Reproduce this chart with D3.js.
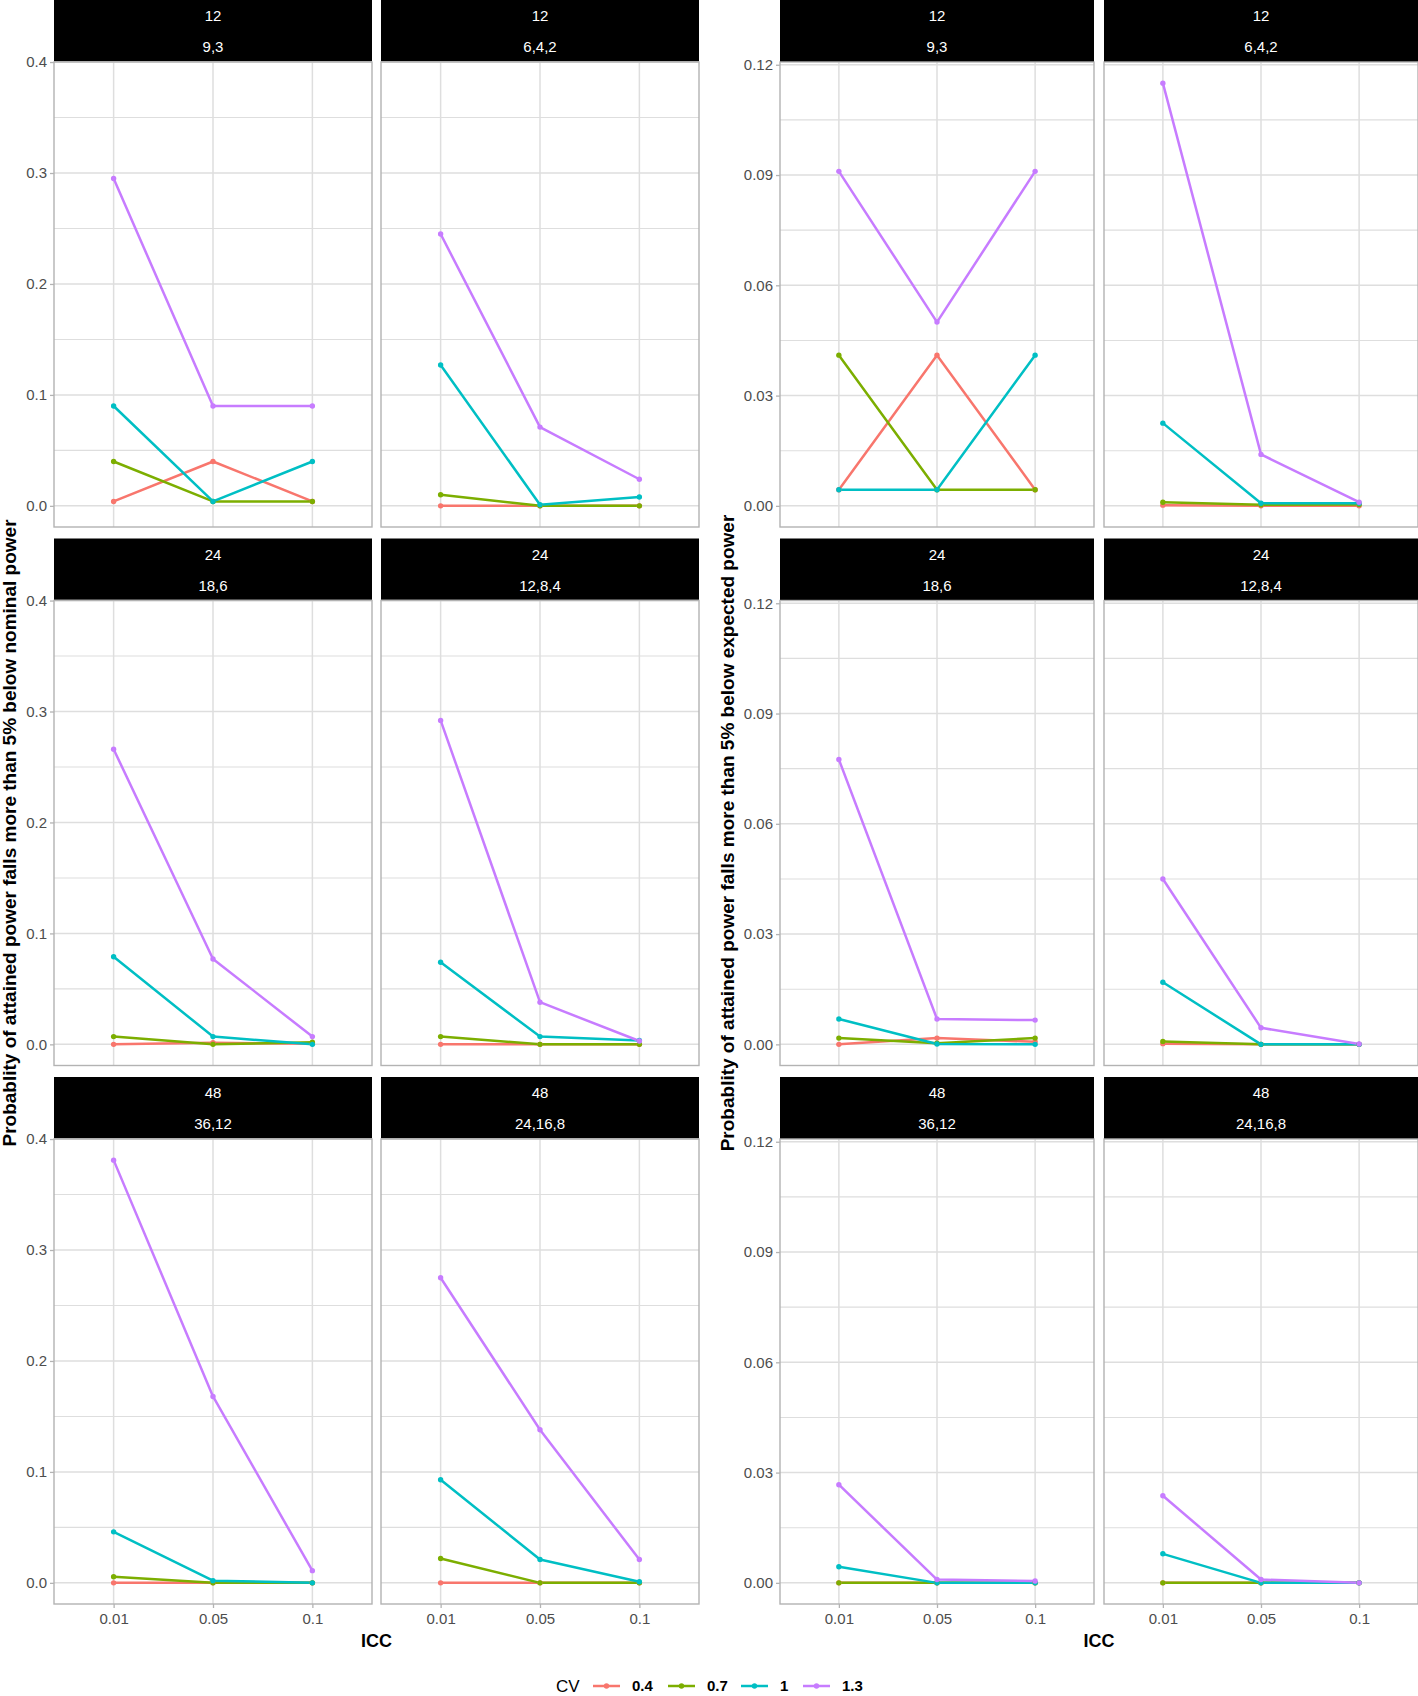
<!DOCTYPE html>
<html><head><meta charset="utf-8">
<script src="https://cdn.jsdelivr.net/npm/d3@7"></script>
<style>body{margin:0;background:#fff} svg{display:block}</style>
</head><body><svg id="c" width="1418" height="1696"></svg>
<script>
// ---------- data ----------
const iccLevels = ["0.01", "0.05", "0.1"];
const cvLevels = ["0.4", "0.7", "1", "1.3"];
const cvColors = ["#F8766D", "#7CAE00", "#00BFC4", "#C77CFF"];
const facetTotals = ["12", "12", "24", "24", "48", "48"];
const facetSizes = ["9,3", "6,4,2", "18,6", "12,8,4", "36,12", "24,16,8"];
const nominalTicks = [0, 0.1, 0.2, 0.3, 0.4];
const nominalMinor = [0.05, 0.15, 0.25, 0.35];
const expectedTicks = [0, 0.03, 0.06, 0.09, 0.12];
const expectedMinor = [0.015, 0.045, 0.075, 0.105];

// each facet: one row per CV level (0.4, 0.7, 1, 1.3), values at ICC 0.01, 0.05, 0.1
// probability of falling >5% below nominal power
const nominal_12_9_3    = [[0.004, 0.040, 0.004], [0.040, 0.004, 0.004], [0.090, 0.004, 0.040], [0.295, 0.090, 0.090]];
const nominal_12_6_4_2  = [[0.000, 0.000, 0.000], [0.010, 0.000, 0.000], [0.127, 0.001, 0.008], [0.245, 0.071, 0.024]];
const nominal_24_18_6   = [[0.000, 0.0015, 0.0005], [0.007, 0.000, 0.002], [0.079, 0.007, 0.000], [0.266, 0.077, 0.007]];
const nominal_24_12_8_4 = [[0.000, 0.000, 0.000], [0.007, 0.000, 0.000], [0.074, 0.007, 0.0035], [0.292, 0.038, 0.003]];
const nominal_48_36_12  = [[0.000, 0.000, 0.000], [0.0055, 0.000, 0.000], [0.046, 0.002, 0.000], [0.381, 0.168, 0.011]];
const nominal_48_24_16_8= [[0.000, 0.000, 0.000], [0.022, 0.000, 0.000], [0.093, 0.021, 0.001], [0.275, 0.138, 0.021]];
// probability of falling >5% below expected power
const expected_12_9_3    = [[0.0044, 0.041, 0.0044], [0.041, 0.0044, 0.0044], [0.0044, 0.0044, 0.041], [0.091, 0.050, 0.091]];
const expected_12_6_4_2  = [[0.0002, 0.000, 0.000], [0.001, 0.0003, 0.0004], [0.0225, 0.0007, 0.0007], [0.115, 0.014, 0.001]];
const expected_24_18_6   = [[0.000, 0.0017, 0.0007], [0.0017, 0.0003, 0.0017], [0.0069, 0.0001, 0.000], [0.0775, 0.0069, 0.0066]];
const expected_24_12_8_4 = [[0.0002, 0.000, 0.000], [0.0008, 0.000, 0.000], [0.0169, 0.000, 0.000], [0.045, 0.0045, 0.0001]];
const expected_48_36_12  = [[0.000, 0.000, 0.000], [0.000, 0.000, 0.000], [0.0044, 0.000, 0.000], [0.0267, 0.0009, 0.0005]];
const expected_48_24_16_8= [[0.000, 0.000, 0.000], [0.000, 0.000, 0.000], [0.0079, 0.000, 0.000], [0.0237, 0.0009, 0.000]];

const nominalFacets = [nominal_12_9_3, nominal_12_6_4_2, nominal_24_18_6, nominal_24_12_8_4, nominal_48_36_12, nominal_48_24_16_8];
const expectedFacets = [expected_12_9_3, expected_12_6_4_2, expected_24_18_6, expected_24_12_8_4, expected_48_36_12, expected_48_24_16_8];

// ---------- layout ----------
const FONT = "'Liberation Sans', Arial, Helvetica, sans-serif";
const svg = d3.select("#c");
const rowTop = [0, 538.5, 1077];
const stripH = 62, panelH = 465;
const GRID = "#DEDEDE", BORDER = "#B3B3B3", TXT = "#4D4D4D";

const plots = [
  { facets: nominalFacets, panelX: [54, 381], panelW: 318, ticks: nominalTicks, minor: nominalMinor,
    fmt: d3.format(".1f"), title: "Probablity of attained power falls more than 5% below nominal power", titleX: 9 },
  { facets: expectedFacets, panelX: [780, 1104], panelW: 314, ticks: expectedTicks, minor: expectedMinor,
    fmt: d3.format(".2f"), title: "Probablity of attained power falls more than 5% below expected power", titleX: 727 }
];

plots.forEach(p => {
  const maxV = d3.max(p.facets.flat(2));
  const ext = maxV * 0.05;
  p.facets.forEach((vals, fi) => {
    const r = Math.floor(fi / 2), c = fi % 2;
    const x0 = p.panelX[c], w = p.panelW;
    const top = rowTop[r] + stripH, bot = top + panelH;
    const x = d3.scalePoint().domain(iccLevels).range([x0, x0 + w]).padding(0.6);
    const y = d3.scaleLinear().domain([-ext, maxV + ext]).range([bot, top]);
    const g = svg.append("g");

    // strip
    g.append("rect").attr("x", x0).attr("y", rowTop[r]).attr("width", w).attr("height", stripH).attr("fill", "#000");
    g.append("text").attr("x", x0 + w / 2).attr("y", rowTop[r] + 16).attr("dy", "0.36em")
      .attr("text-anchor", "middle").attr("fill", "#fff").attr("font-family", FONT).attr("font-size", 15)
      .text(facetTotals[fi]);
    g.append("text").attr("x", x0 + w / 2).attr("y", rowTop[r] + 47).attr("dy", "0.36em")
      .attr("text-anchor", "middle").attr("fill", "#fff").attr("font-family", FONT).attr("font-size", 15)
      .text(facetSizes[fi]);

    // grid
    g.selectAll(".mn").data(p.minor).join("line")
      .attr("x1", x0).attr("x2", x0 + w).attr("y1", d => y(d)).attr("y2", d => y(d))
      .attr("stroke", GRID).attr("stroke-width", 1.1);
    g.selectAll(".mj").data(p.ticks).join("line")
      .attr("x1", x0).attr("x2", x0 + w).attr("y1", d => y(d)).attr("y2", d => y(d))
      .attr("stroke", GRID).attr("stroke-width", 1.5);
    g.selectAll(".vx").data(iccLevels).join("line")
      .attr("x1", d => x(d)).attr("x2", d => x(d)).attr("y1", top).attr("y2", bot)
      .attr("stroke", GRID).attr("stroke-width", 1.5);

    // series
    const line = d3.line().x((d, i) => x(iccLevels[i])).y(d => y(d));
    vals.forEach((series, si) => {
      g.append("path").attr("d", line(series)).attr("fill", "none")
        .attr("stroke", cvColors[si]).attr("stroke-width", 2.5).attr("stroke-linejoin", "round");
    });
    vals.forEach((series, si) => {
      g.selectAll(null).data(series).join("circle")
        .attr("cx", (d, i) => x(iccLevels[i])).attr("cy", d => y(d)).attr("r", 2.7)
        .attr("fill", cvColors[si]);
    });

    // border
    g.append("rect").attr("x", x0).attr("y", top).attr("width", w).attr("height", panelH)
      .attr("fill", "none").attr("stroke", BORDER).attr("stroke-width", 1.4);

    // y axis (left column only)
    if (c === 0) {
      const ax = g.append("g").attr("transform", `translate(${x0},0)`)
        .call(d3.axisLeft(y).tickValues(p.ticks).tickFormat(p.fmt).tickSize(4).tickPadding(3));
      ax.select(".domain").remove();
      ax.selectAll(".tick line").attr("stroke", BORDER).attr("stroke-width", 1.3);
      ax.selectAll(".tick text").attr("fill", TXT).attr("font-family", FONT).attr("font-size", 15);
    }
    // x axis (bottom row only)
    if (r === 2) {
      const ax = g.append("g").attr("transform", `translate(0,${bot})`)
        .call(d3.axisBottom(x).tickSize(4).tickPadding(5));
      ax.select(".domain").remove();
      ax.selectAll(".tick line").attr("stroke", BORDER).attr("stroke-width", 1.3);
      ax.selectAll(".tick text").attr("fill", TXT).attr("font-family", FONT).attr("font-size", 15);
    }
  });

  // y title
  svg.append("text").attr("transform", `translate(${p.titleX},833) rotate(-90)`)
    .attr("text-anchor", "middle").attr("dy", "0.36em")
    .attr("font-family", FONT).attr("font-weight", "bold").attr("font-size", 19).attr("fill", "#000")
    .text(p.title);
  // x title
  const cx = (p.panelX[0] + p.panelX[1] + p.panelW) / 2;
  svg.append("text").attr("x", cx).attr("y", 1641).attr("dy", "0.36em")
    .attr("text-anchor", "middle").attr("font-family", FONT).attr("font-weight", "bold")
    .attr("font-size", 18).attr("fill", "#000").text("ICC");
});

// ---------- legend ----------
const lg = svg.append("g");
const ly = 1686;
lg.append("text").attr("x", 556).attr("y", ly).attr("dy", "0.35em")
  .attr("font-family", FONT).attr("font-size", 17).attr("fill", "#000").text("CV");
const keyX = [593, 668, 741, 803];
cvLevels.forEach((lv, i) => {
  lg.append("line").attr("x1", keyX[i]).attr("x2", keyX[i] + 27).attr("y1", ly).attr("y2", ly)
    .attr("stroke", cvColors[i]).attr("stroke-width", 2.5);
  lg.append("circle").attr("cx", keyX[i] + 13.5).attr("cy", ly).attr("r", 2.7).attr("fill", cvColors[i]);
  lg.append("text").attr("x", keyX[i] + 39).attr("y", ly).attr("dy", "0.35em")
    .attr("font-family", FONT).attr("font-weight", "bold").attr("font-size", 15).attr("fill", "#000").text(lv);
});
</script></body></html>
